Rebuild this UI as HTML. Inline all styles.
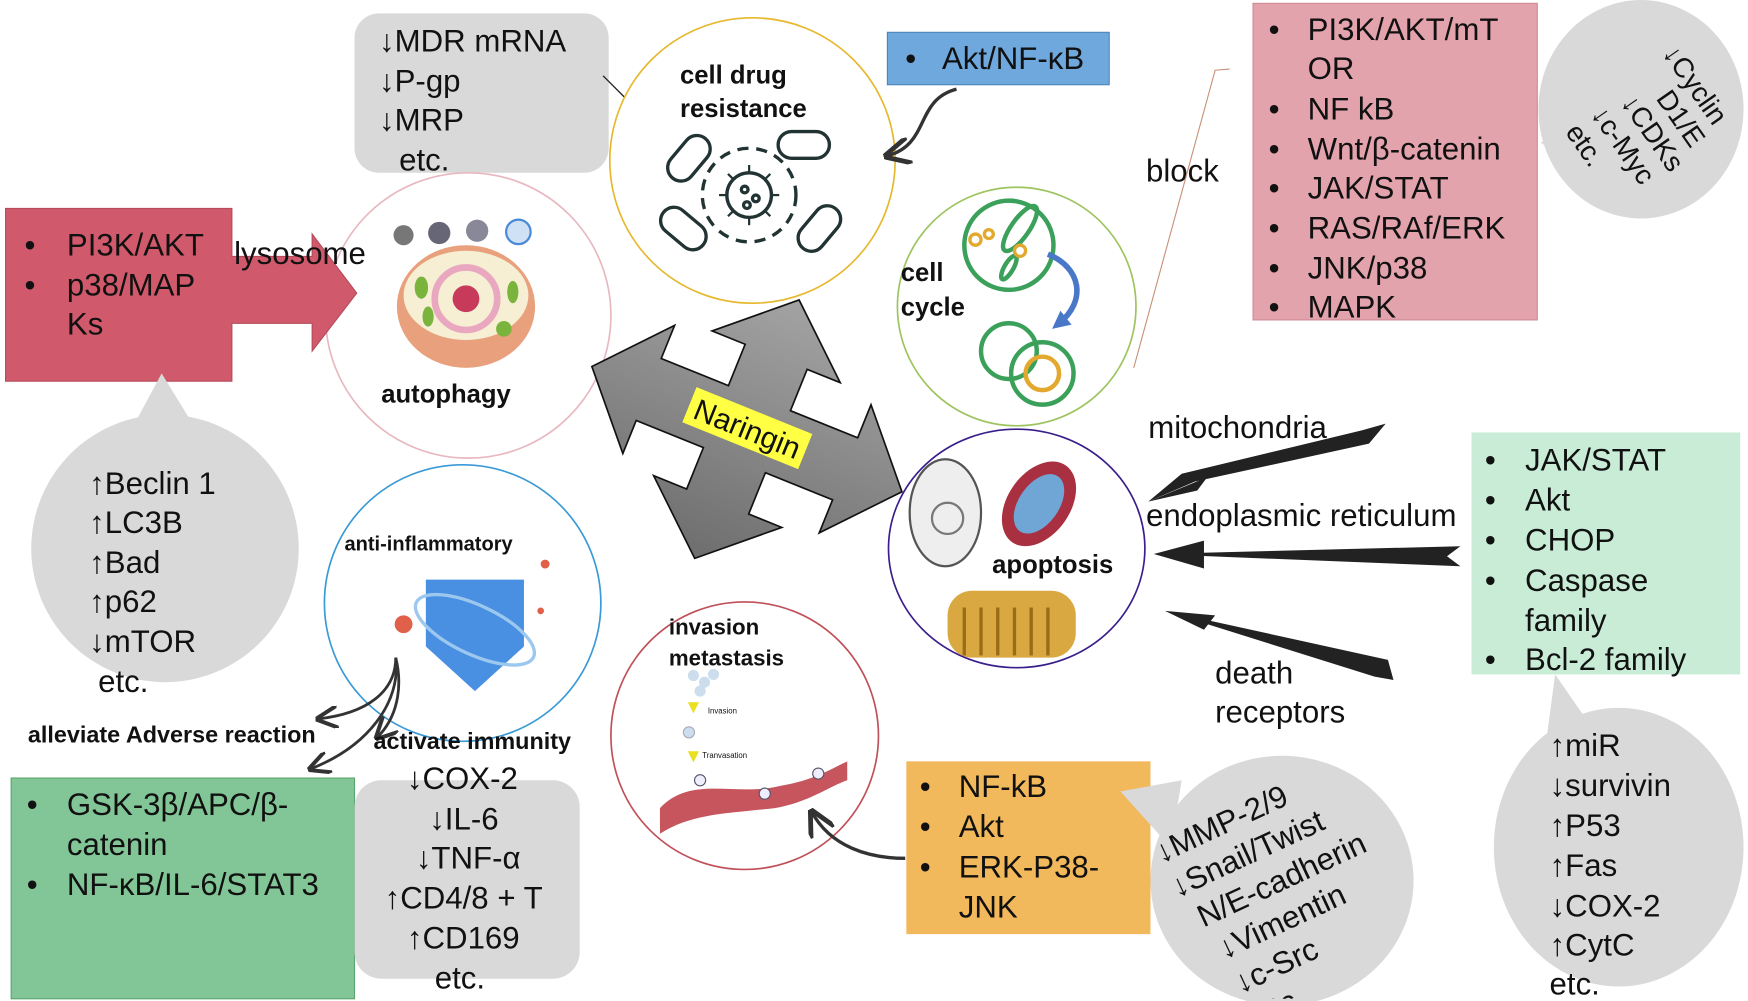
<!DOCTYPE html>
<html><head><meta charset="utf-8"><style>
html,body{margin:0;padding:0;background:#fff;overflow:hidden}
svg{display:block}
text{font-family:"Liberation Sans",sans-serif;fill:#111}
.t{font-size:28px}
.b{font-weight:bold;font-size:23px}
</style></head><body>
<svg width="1748" height="1001" viewBox="0 0 1568 898" preserveAspectRatio="none" xmlns="http://www.w3.org/2000/svg">
<defs>
<linearGradient id="g" x1="0" y1="0" x2="0" y2="1"><stop offset="0" stop-color="#a3a3a3"/><stop offset="1" stop-color="#6e6e6e"/></linearGradient>
<marker id="ah" viewBox="0 0 10 10" refX="9" refY="5" markerWidth="8" markerHeight="8" orient="auto"><path d="M0,0 L10,5 L0,10" fill="none" stroke="#333" stroke-width="1.8"/></marker>
<marker id="ah2" viewBox="0 0 10 10" refX="9" refY="5" markerWidth="6" markerHeight="6" orient="auto"><path d="M0,0 L10,5 L0,10" fill="none" stroke="#333" stroke-width="2"/></marker>
<marker id="ab" viewBox="0 0 10 10" refX="5" refY="5" markerWidth="16" markerHeight="16" markerUnits="userSpaceOnUse" orient="auto"><path d="M0,0 L10,5 L0,10 Z" fill="#4a78c8"/></marker>
</defs>

<rect x="318" y="12" width="228" height="143" rx="22" fill="#d9d9d9"/>
<text class="t" x="340" y="46">↓MDR mRNA</text>
<text class="t" x="340" y="82">↓P-gp</text>
<text class="t" x="340" y="117">↓MRP</text>
<text class="t" x="358" y="153">etc.</text>
<line x1="541" y1="68" x2="570" y2="97" stroke="#222" stroke-width="1.2" marker-end="url(#ah2)"/>

<circle cx="675" cy="144" r="128" fill="#fff" stroke="#e6b82e" stroke-width="1.5"/>
<text class="b" x="610" y="75">cell drug</text>
<text class="b" x="610" y="105">resistance</text>
<g fill="none" stroke="#233" stroke-width="3">
<circle cx="672" cy="175" r="42" stroke-dasharray="10 7"/>
<circle cx="672" cy="175" r="20"/>
<g stroke-width="2"><line x1="672" y1="148" x2="672" y2="155"/><line x1="672" y1="195" x2="672" y2="202"/><line x1="645" y1="175" x2="652" y2="175"/><line x1="692" y1="175" x2="699" y2="175"/><line x1="653" y1="156" x2="658" y2="161"/><line x1="686" y1="189" x2="691" y2="194"/><line x1="691" y1="156" x2="686" y2="161"/><line x1="653" y1="194" x2="658" y2="189"/></g>
<circle cx="668" cy="170" r="3"/><circle cx="678" cy="178" r="3"/><circle cx="670" cy="184" r="3"/>
<rect x="595" y="130" width="46" height="24" rx="12" transform="rotate(-50 618 142)"/>
<rect x="698" y="118" width="46" height="24" rx="12"/>
<rect x="590" y="193" width="46" height="24" rx="12" transform="rotate(40 613 205)"/>
<rect x="712" y="193" width="46" height="24" rx="12" transform="rotate(-50 735 205)"/>
</g>

<rect x="796" y="29" width="199" height="47" fill="#6fa8dc" stroke="#4f86b8"/>
<text class="t" x="812" y="62">•</text><text class="t" x="845" y="62">Akt/NF-κB</text>
<path d="M858,80 C820,90 835,130 795,140" fill="none" stroke="#333" stroke-width="3" marker-end="url(#ah)"/>

<rect x="1124" y="3" width="255" height="284" fill="#e3a3ad" stroke="#d08a94"/>
<text class="t" x="1138" y="36">•</text><text class="t" x="1173" y="36">PI3K/AKT/mT</text>
<text class="t" x="1173" y="71">OR</text>
<text class="t" x="1138" y="107">•</text><text class="t" x="1173" y="107">NF kB</text>
<text class="t" x="1138" y="143">•</text><text class="t" x="1173" y="143">Wnt/β-catenin</text>
<text class="t" x="1138" y="178">•</text><text class="t" x="1173" y="178">JAK/STAT</text>
<text class="t" x="1138" y="214">•</text><text class="t" x="1173" y="214">RAS/RAf/ERK</text>
<text class="t" x="1138" y="250">•</text><text class="t" x="1173" y="250">JNK/p38</text>
<text class="t" x="1138" y="285">•</text><text class="t" x="1173" y="285">MAPK</text>
<path d="M1382,128 L1420,108 L1430,160 Z" fill="#d9d9d9"/>
<ellipse cx="1472" cy="98" rx="92" ry="98" fill="#d9d9d9"/>
<g transform="translate(1498,128) rotate(55)">
<text class="t" x="-70" y="-40" font-size="25" style="font-size:25px">↓Cyclin</text>
<text class="t" x="-40" y="-12" style="font-size:25px">D1/E</text>
<text class="t" x="-55" y="16" style="font-size:25px">↓CDKs</text>
<text class="t" x="-62" y="44" style="font-size:25px">↓c-Myc</text>
<text class="t" x="-62" y="72" style="font-size:25px">etc.</text>
</g>
<text class="t" x="1028" y="163">block</text>
<polyline points="1103,62 1090,63 1017,330" fill="none" stroke="#c9907a" stroke-width="1"/>

<circle cx="912" cy="275" r="107" fill="#fff" stroke="#9dc45f" stroke-width="1.5"/>
<text class="b" x="808" y="252">cell</text>
<text class="b" x="808" y="283">cycle</text>
<g fill="none" stroke="#3aa05a" stroke-width="4">
<circle cx="905" cy="220" r="40"/>
<ellipse cx="915" cy="205" rx="8" ry="24" transform="rotate(35 915 205)"/>
<ellipse cx="905" cy="240" rx="4" ry="12" transform="rotate(30 905 240)"/>
<circle cx="905" cy="315" r="25"/><circle cx="935" cy="335" r="28"/>
</g>
<circle cx="875" cy="215" r="5" fill="none" stroke="#e3a82e" stroke-width="3"/><circle cx="887" cy="210" r="4" fill="none" stroke="#e3a82e" stroke-width="3"/><circle cx="915" cy="225" r="5" fill="none" stroke="#e3a82e" stroke-width="3"/>
<circle cx="935" cy="335" r="15" fill="none" stroke="#e3a82e" stroke-width="4"/>
<path d="M940,228 C970,240 975,270 950,290" fill="none" stroke="#4a78c8" stroke-width="5" marker-end="url(#ab)"/>

<circle cx="420" cy="283" r="128" fill="#fff" stroke="#e8b8c0" stroke-width="1.5"/>
<circle cx="362" cy="211" r="9" fill="#777"/><circle cx="394" cy="209" r="10" fill="#667"/><circle cx="428" cy="207" r="10" fill="#889"/><circle cx="465" cy="208" r="11" fill="#cfe2f5" stroke="#4a8ad8" stroke-width="2"/>
<ellipse cx="418" cy="275" rx="62" ry="55" fill="#e8a07d"/>
<ellipse cx="418" cy="265" rx="56" ry="40" fill="#f6efd4"/>
<ellipse cx="418" cy="268" rx="28" ry="28" fill="none" stroke="#e9a8c0" stroke-width="6"/>
<circle cx="418" cy="268" r="12" fill="#c83a5a"/>
<ellipse cx="378" cy="258" rx="6" ry="10" fill="#7ab43c"/><ellipse cx="384" cy="284" rx="5" ry="9" fill="#7ab43c"/><ellipse cx="460" cy="262" rx="5" ry="10" fill="#7ab43c"/><ellipse cx="452" cy="295" rx="7" ry="7" fill="#7ab43c"/>
<text class="b" x="342" y="361">autophagy</text>

<polygon points="5,187 208,187 208,230 280,230 280,210 320,263 280,315 280,290 208,290 208,342 5,342" fill="#d05a6c" stroke="#b54a5a"/>
<text class="t" x="22" y="229">•</text><text class="t" x="60" y="229">PI3K/AKT</text>
<text class="t" x="22" y="265">•</text><text class="t" x="60" y="265">p38/MAP</text>
<text class="t" x="60" y="300">Ks</text>
<text class="t" x="210" y="237">lysosome</text>

<path d="M145,335 L110,400 L185,400 Z" fill="#d9d9d9"/>
<ellipse cx="148" cy="492" rx="120" ry="120" fill="#d9d9d9"/>
<text class="t" x="80" y="443">↑Beclin 1</text>
<text class="t" x="80" y="478">↑LC3B</text>
<text class="t" x="80" y="514">↑Bad</text>
<text class="t" x="80" y="549">↑p62</text>
<text class="t" x="80" y="585">↓mTOR</text>
<text class="t" x="88" y="621">etc.</text>

<g transform="translate(670,385) rotate(22)">
<polygon points="30,-30 95,-30 95,-62 150,0 95,62 95,30 30,30 30,70 62,70 0,125 -62,70 -30,70 -30,30 -95,30 -95,62 -150,0 -95,-62 -95,-30 -30,-30 -30,-70 -62,-70 0,-125 62,-70 30,-70" fill="url(#g)" stroke="#111" stroke-width="1.5"/>
<rect x="-56" y="-18" width="112" height="34" fill="#ffff44"/>
<text x="-50" y="9" font-size="27" style="fill:#111">Naringin</text>
</g>

<ellipse cx="912" cy="492" rx="115" ry="107" fill="#fff" stroke="#3a1e8c" stroke-width="1.5"/>
<ellipse cx="848" cy="460" rx="32" ry="48" fill="#eee" stroke="#555" stroke-width="2"/>
<circle cx="850" cy="465" r="14" fill="none" stroke="#777" stroke-width="2"/>
<ellipse cx="932" cy="452" rx="28" ry="42" transform="rotate(35 932 452)" fill="#a83040"/>
<ellipse cx="932" cy="452" rx="18" ry="30" transform="rotate(35 932 452)" fill="#6fa6d6"/>
<rect x="850" y="530" width="115" height="60" rx="22" fill="#d9a840"/>
<g stroke="#9a6c18" stroke-width="3"><line x1="865" y1="545" x2="865" y2="588"/><line x1="880" y1="545" x2="880" y2="588"/><line x1="895" y1="545" x2="895" y2="588"/><line x1="910" y1="545" x2="910" y2="588"/><line x1="925" y1="545" x2="925" y2="588"/><line x1="940" y1="545" x2="940" y2="588"/></g>
<text class="b" x="890" y="514">apoptosis</text>

<polygon points="1243,380 1228,398 1072,432 1030,450 1060,425 1222,386" fill="#222"/>
<polygon points="1030,450 1083,428 1074,440" fill="#222"/>
<polygon points="1310,490 1035,497 1310,508 1298,499" fill="#222"/>
<polygon points="1035,497 1080,485 1080,510" fill="#222"/>
<polygon points="1250,610 1245,592 1045,548 1233,607" fill="#222"/>
<polygon points="1045,548 1090,552 1080,565" fill="#222"/>
<text class="t" x="1030" y="393">mitochondria</text>
<text class="t" x="1028" y="472">endoplasmic reticulum</text>
<text class="t" x="1090" y="613">death</text>
<text class="t" x="1090" y="648">receptors</text>

<rect x="1320" y="388" width="241" height="217" fill="#c8ecd6"/>
<text class="t" x="1332" y="422">•</text><text class="t" x="1368" y="422">JAK/STAT</text>
<text class="t" x="1332" y="458">•</text><text class="t" x="1368" y="458">Akt</text>
<text class="t" x="1332" y="494">•</text><text class="t" x="1368" y="494">CHOP</text>
<text class="t" x="1332" y="530">•</text><text class="t" x="1368" y="530">Caspase</text>
<text class="t" x="1368" y="566">family</text>
<text class="t" x="1332" y="601">•</text><text class="t" x="1368" y="601">Bcl-2 family</text>
<path d="M1395,605 L1385,680 L1440,670 Z" fill="#d9d9d9"/>
<ellipse cx="1452" cy="760" rx="112" ry="125" fill="#d9d9d9"/>
<text class="t" x="1390" y="678">↑miR</text>
<text class="t" x="1390" y="714">↓survivin</text>
<text class="t" x="1390" y="750">↑P53</text>
<text class="t" x="1390" y="786">↑Fas</text>
<text class="t" x="1390" y="822">↓COX-2</text>
<text class="t" x="1390" y="857">↑CytC</text>
<text class="t" x="1390" y="892">etc.</text>

<circle cx="415" cy="541" r="124" fill="#fff" stroke="#3a9ad6" stroke-width="1.5"/>
<text class="b" x="309" y="494" style="font-size:18px">anti-inflammatory</text>
<path d="M382,520 L470,520 L470,580 L426,620 L382,580 Z" fill="#4a90e2"/>
<ellipse cx="426" cy="565" rx="58" ry="22" fill="none" stroke="#9cc8f0" stroke-width="3" transform="rotate(25 426 565)"/>
<circle cx="362" cy="560" r="8" fill="#e0604a"/><circle cx="489" cy="506" r="4" fill="#e0604a"/><circle cx="485" cy="548" r="3" fill="#e0604a"/>
<path d="M355,590 C355,620 330,640 285,645" fill="none" stroke="#333" stroke-width="2.5" marker-end="url(#ah)"/>
<path d="M355,590 C360,630 330,670 278,690" fill="none" stroke="#333" stroke-width="2.5" marker-end="url(#ah)"/>
<path d="M355,590 C360,610 360,640 338,662" fill="none" stroke="#333" stroke-width="2.5" marker-end="url(#ah)"/>
<text class="b" x="25" y="666" style="font-size:21px">alleviate Adverse reaction</text>
<text class="b" x="335" y="672" style="font-size:21px">activate immunity</text>

<circle cx="668" cy="660" r="120" fill="#fff" stroke="#c0505a" stroke-width="1.5"/>
<text class="b" x="600" y="569" style="font-size:20px">invasion</text>
<text class="b" x="600" y="597" style="font-size:20px">metastasis</text>
<circle cx="622" cy="606" r="5" fill="#cde"/><circle cx="632" cy="612" r="5" fill="#cde"/><circle cx="640" cy="605" r="5" fill="#cde"/><circle cx="628" cy="620" r="5" fill="#cde"/>
<polygon points="617,630 627,630 622,640" fill="#e8e020"/><text x="635" y="640" font-size="7">Invasion</text>
<circle cx="618" cy="657" r="5" fill="#cde" stroke="#aab"/>
<polygon points="617,674 627,674 622,684" fill="#e8e020"/><text x="630" y="680" font-size="7">Tranvasation</text>
<path d="M592,725 C620,695 660,715 700,705 C730,700 745,690 760,683 L760,700 C745,705 725,720 695,725 C650,730 620,730 592,748 Z" fill="#c6555e"/>
<circle cx="628" cy="700" r="5" fill="#eef" stroke="#556"/><circle cx="686" cy="712" r="5" fill="#eef" stroke="#556"/><circle cx="734" cy="694" r="5" fill="#eef" stroke="#556"/>
<path d="M812,770 C780,770 745,760 728,728" fill="none" stroke="#333" stroke-width="3" marker-end="url(#ah)"/>

<rect x="813" y="683" width="219" height="155" fill="#f1b85c"/>
<text class="t" x="825" y="715">•</text><text class="t" x="860" y="715">NF-kB</text>
<text class="t" x="825" y="751">•</text><text class="t" x="860" y="751">Akt</text>
<text class="t" x="825" y="787">•</text><text class="t" x="860" y="787">ERK-P38-</text>
<text class="t" x="860" y="823">JNK</text>
<path d="M1005,710 L1060,700 L1050,760 Z" fill="#d9d9d9"/>
<ellipse cx="1150" cy="790" rx="118" ry="112" fill="#d9d9d9"/>
<clipPath id="cb"><rect x="1000" y="670" width="300" height="226"/></clipPath>
<g clip-path="url(#cb)">
<g transform="translate(1145,795) rotate(-25)">
<text class="t" x="-85" y="-62">↓MMP-2/9</text>
<text class="t" x="-85" y="-28">↓Snail/Twist</text>
<text class="t" x="-75" y="6">N/E-cadherin</text>
<text class="t" x="-70" y="40">↓Vimentin</text>
<text class="t" x="-70" y="74">↓c-Src</text>
<text class="t" x="-65" y="108">etc.</text>
</g></g>

<rect x="10" y="698" width="308" height="198" fill="#82c596" stroke="#5aa56e"/>
<text class="t" x="24" y="731">•</text><text class="t" x="60" y="731">GSK-3β/APC/β-</text>
<text class="t" x="60" y="767">catenin</text>
<text class="t" x="24" y="803">•</text><text class="t" x="60" y="803">NF-κB/IL-6/STAT3</text>
<rect x="318" y="700" width="202" height="178" rx="24" fill="#d9d9d9"/>
<text class="t" x="365" y="708">↓COX-2</text>
<text class="t" x="385" y="744">↓IL-6</text>
<text class="t" x="373" y="779">↓TNF-α</text>
<text class="t" x="345" y="815">↑CD4/8 + T</text>
<text class="t" x="365" y="851">↑CD169</text>
<text class="t" x="390" y="887">etc.</text>
</svg>
</body></html>
